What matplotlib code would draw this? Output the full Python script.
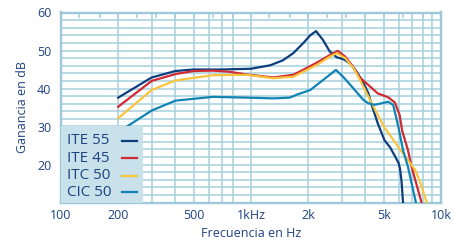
import matplotlib
matplotlib.use('Agg')
import matplotlib.pyplot as plt
from matplotlib.patches import Rectangle
from matplotlib.ticker import NullFormatter, NullLocator

# Curves (frequency in Hz, gain in dB)
ite55_f = [200, 300, 400, 500, 700, 1000, 1260, 1470, 1670, 1880, 2050, 2200, 2390, 2600, 2830,
           3070, 3320, 3600, 3900, 4150, 4320, 4650, 5040, 5400, 5750, 5980, 6080, 6200, 6330]
ite55_db = [37.6, 42.9, 44.6, 45.0, 45.0, 45.2, 46.1, 47.4, 49.3, 51.9, 54.0, 55.1, 52.8, 49.7, 48.2,
            47.7, 46.6, 44.4, 41.5, 38.7, 35.6, 30.8, 26.4, 24.5, 22.0, 20.4, 19.0, 15.5, 9.0]

ite45_f = [200, 300, 400, 500, 630, 770, 950, 1310, 1670, 1880, 2220, 2600, 2860, 3130, 3450,
           3700, 4150, 4650, 5270, 5720, 6060, 6250, 6700, 7000, 8000]
ite45_db = [35.2, 42.0, 43.8, 44.6, 44.7, 44.4, 43.7, 42.9, 43.6, 44.9, 46.8, 48.8, 49.9, 48.4, 45.7,
            43.1, 40.9, 38.7, 37.7, 36.3, 33.0, 28.8, 23.8, 19.4, 9.0]

itc50_f = [200, 300, 400, 500, 630, 950, 1310, 1670, 2220, 2600, 2830, 3130, 3450, 3700, 4230,
           5000, 6200, 7300, 7700, 8550]
itc50_db = [32.2, 39.6, 42.1, 42.8, 43.5, 43.6, 42.7, 43.1, 46.2, 48.4, 49.3, 48.0, 45.5, 42.8, 37.0,
            30.0, 23.4, 18.6, 15.9, 9.0]

cic50_f = [200, 224, 300, 400, 500, 630, 950, 1310, 1600, 1770, 2050, 2390, 2800, 3050, 3450,
           3900, 4150, 4470, 5270, 5600, 5960, 6310, 6700, 7450]
cic50_db = [28.5, 30.1, 34.2, 36.8, 37.3, 37.8, 37.6, 37.4, 37.6, 38.5, 39.6, 42.2, 44.9, 43.1, 40.1,
            37.0, 36.1, 35.7, 36.5, 35.7, 30.0, 23.8, 19.4, 9.0]

labels = ['ITE 55', 'ITE 45', 'ITC 50', 'CIC 50']
colors = ['#0e3d7e', '#d12a33', '#fbc43c', '#1184b6']

x_major = [100, 200, 500, 1000, 2000, 5000, 10000]
x_major_labels = ['100', '200', '500', '1kHz', '2k', '5k', '10k']
x_minor = [300, 400, 600, 700, 800, 3000, 4000, 6000, 7000, 8000, 9000]
third_octave = [125, 160, 200, 250, 315, 400, 500, 630, 800, 1000, 1250, 1600, 2000, 2500,
                3150, 4000, 5000, 6300, 8000, 10000]
y_major = [20, 30, 40, 50, 60]

text_color = '#1d4382'
grid_color = '#a6cfdd'

plt.rcParams['font.family'] = ['Open Sans', 'DejaVu Sans']

fig = plt.figure(figsize=(4.56, 2.4), dpi=100)
ax = fig.add_axes([61 / 456, 1 - 202.5 / 240, 380 / 456, 190 / 240])

ax.set_xscale('log')
ax.set_xlim(100, 10000)
ax.set_ylim(10, 60)

ax.set_xticks(x_major)
ax.set_xticklabels(x_major_labels)
ax.set_xticks(x_minor, minor=True)
ax.xaxis.set_minor_formatter(NullFormatter())
ax.set_yticks(y_major)
ax.set_yticks(range(12, 60, 2), minor=True)

ax.grid(True, which='both', color=grid_color, lw=1.1)
ax.set_axisbelow(True)
ax.tick_params(which='both', length=0, colors=text_color, labelsize=9)
ax.tick_params(axis='y', pad=7)
ax.tick_params(axis='x', pad=5)
for s in ax.spines.values():
    s.set_color('#9cc8d9')
    s.set_linewidth(1.7)

# third-octave ticks along the top edge
top = ax.secondary_xaxis('top')
top.set_xticks(third_octave)
top.xaxis.set_major_formatter(NullFormatter())
top.xaxis.set_minor_locator(NullLocator())
top.tick_params(direction='in', length=4, width=1.2, color=grid_color)
top.spines['top'].set_visible(False)

series = [(ite55_f, ite55_db), (ite45_f, ite45_db), (itc50_f, itc50_db), (cic50_f, cic50_db)]
for (f, db), lab, c in zip(series, labels, colors):
    ax.plot(f, db, color=c, lw=1.6, label=lab, zorder=3)

ax.set_xlabel('Frecuencia en Hz', color=text_color, fontsize=9, labelpad=3)
ax.set_ylabel('Ganancia en dB', color=text_color, fontsize=9, labelpad=6)

# legend panel in the lower left corner
ax.add_patch(Rectangle((0, 0), 82 / 380, 76.5 / 190, transform=ax.transAxes,
                       facecolor='#c8e1ea', edgecolor='none', zorder=4))
row_y = [0.325, 0.232, 0.141, 0.053]
for yy, lab, c in zip(row_y, labels, colors):
    ax.text(0.016, yy, lab, transform=ax.transAxes, color=text_color, fontsize=11,
            va='center', ha='left', zorder=5)
    ax.plot([0.160, 0.201], [yy, yy], transform=ax.transAxes, color=c, lw=1.6, zorder=5)

fig.savefig('out.png', dpi=100)
